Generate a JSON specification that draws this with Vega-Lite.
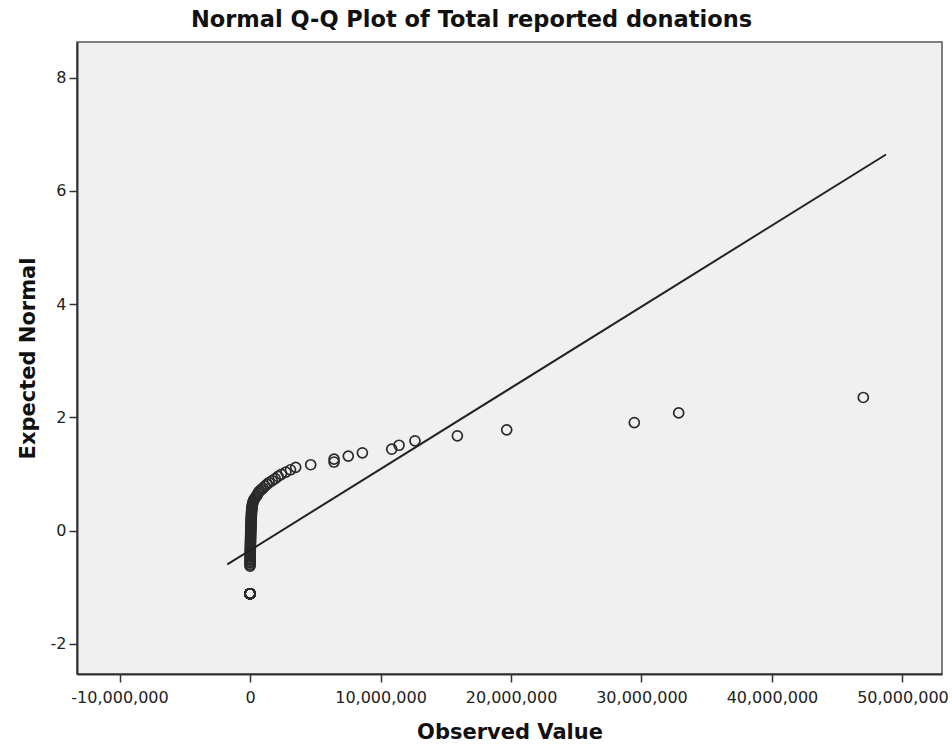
{
  "$schema": "https://vega.github.io/schema/vega-lite/v6.json",
  "width": 865,
  "height": 632,
  "autosize": {"type": "none"},
  "padding": {"left": 77, "top": 42, "right": 10, "bottom": 70},
  "background": "white",
  "title": {
    "text": "Normal Q-Q Plot of Total reported donations",
    "font": "DejaVu Sans",
    "fontSize": 22.5,
    "fontWeight": "bold",
    "color": "#111111",
    "anchor": "middle",
    "frame": "group",
    "dx": -38,
    "offset": 11
  },
  "config": {
    "view": {"fill": "#F0F0F0", "stroke": "#555555", "strokeWidth": 1.5},
    "axis": {
      "grid": false,
      "labelFont": "DejaVu Sans",
      "labelFontSize": 16,
      "labelColor": "#222222",
      "titleFont": "DejaVu Sans",
      "titleFontSize": 21,
      "titleFontWeight": "bold",
      "titleColor": "#111111",
      "domainColor": "#333333",
      "domainWidth": 2,
      "tickColor": "#333333",
      "tickWidth": 1.5,
      "tickSize": 8,
      "labelPadding": 4
    }
  },
  "datasets": {
    "points": [
      {"value": 0, "expected": -1.117}, {"value": 0, "expected": -1.117}, {"value": 0, "expected": -1.117},
      {"value": 0, "expected": -1.117}, {"value": 0, "expected": -1.117}, {"value": 0, "expected": -1.117},
      {"value": 0, "expected": -1.117}, {"value": 0, "expected": -1.117}, {"value": 0, "expected": -1.117},
      {"value": 0, "expected": -1.117}, {"value": 0, "expected": -1.117}, {"value": 0, "expected": -1.117},
      {"value": 0, "expected": -1.117}, {"value": 0, "expected": -1.117}, {"value": 0, "expected": -1.117},
      {"value": 0, "expected": -1.117}, {"value": 0, "expected": -1.117}, {"value": 0, "expected": -1.117},
      {"value": 0, "expected": -1.117}, {"value": 0, "expected": -1.117}, {"value": 0, "expected": -1.117},
      {"value": 0, "expected": -1.117}, {"value": 0, "expected": -1.117}, {"value": 0, "expected": -1.117},
      {"value": 0, "expected": -1.117}, {"value": 0, "expected": -1.117}, {"value": 0, "expected": -1.117},
      {"value": 1000, "expected": -0.631}, {"value": 2000, "expected": -0.602}, {"value": 3000, "expected": -0.573},
      {"value": 5000, "expected": -0.546}, {"value": 6000, "expected": -0.519}, {"value": 8000, "expected": -0.492},
      {"value": 10000, "expected": -0.466}, {"value": 12000, "expected": -0.440}, {"value": 15000, "expected": -0.414},
      {"value": 17000, "expected": -0.388}, {"value": 20000, "expected": -0.363}, {"value": 22000, "expected": -0.337},
      {"value": 25000, "expected": -0.312}, {"value": 27000, "expected": -0.287}, {"value": 30000, "expected": -0.263},
      {"value": 32000, "expected": -0.239}, {"value": 35000, "expected": -0.214}, {"value": 37000, "expected": -0.190},
      {"value": 40000, "expected": -0.166}, {"value": 42000, "expected": -0.142}, {"value": 45000, "expected": -0.118},
      {"value": 48000, "expected": -0.095}, {"value": 50000, "expected": -0.071}, {"value": 53000, "expected": -0.047},
      {"value": 56000, "expected": -0.024}, {"value": 60000, "expected": 0.000}, {"value": 63000, "expected": 0.024},
      {"value": 66000, "expected": 0.047}, {"value": 70000, "expected": 0.071}, {"value": 74000, "expected": 0.095},
      {"value": 78000, "expected": 0.118}, {"value": 82000, "expected": 0.142}, {"value": 86000, "expected": 0.166},
      {"value": 90000, "expected": 0.190}, {"value": 95000, "expected": 0.214}, {"value": 100000, "expected": 0.239},
      {"value": 105000, "expected": 0.263}, {"value": 110000, "expected": 0.287}, {"value": 115000, "expected": 0.312},
      {"value": 120000, "expected": 0.337}, {"value": 130000, "expected": 0.363}, {"value": 140000, "expected": 0.388},
      {"value": 150000, "expected": 0.414}, {"value": 170000, "expected": 0.440}, {"value": 190000, "expected": 0.466},
      {"value": 220000, "expected": 0.492}, {"value": 250000, "expected": 0.519}, {"value": 300000, "expected": 0.546},
      {"value": 380000, "expected": 0.573}, {"value": 470000, "expected": 0.602}, {"value": 550000, "expected": 0.631},
      {"value": 620000, "expected": 0.660}, {"value": 700000, "expected": 0.690}, {"value": 850000, "expected": 0.720},
      {"value": 1000000, "expected": 0.751}, {"value": 1150000, "expected": 0.783}, {"value": 1300000, "expected": 0.815},
      {"value": 1460000, "expected": 0.848}, {"value": 1700000, "expected": 0.882}, {"value": 1930000, "expected": 0.918},
      {"value": 2150000, "expected": 0.955}, {"value": 2400000, "expected": 0.993}, {"value": 2750000, "expected": 1.032},
      {"value": 3100000, "expected": 1.073}, {"value": 3500000, "expected": 1.116}, {"value": 4650000, "expected": 1.162},
      {"value": 6440000, "expected": 1.210}, {"value": 6440000, "expected": 1.261}, {"value": 7530000, "expected": 1.315},
      {"value": 8610000, "expected": 1.373}, {"value": 10860000, "expected": 1.436}, {"value": 11420000, "expected": 1.506},
      {"value": 12640000, "expected": 1.585}, {"value": 15890000, "expected": 1.673}, {"value": 19670000, "expected": 1.778},
      {"value": 29450000, "expected": 1.907}, {"value": 32850000, "expected": 2.077}, {"value": 47000000, "expected": 2.350}
    ],
    "fit": [
      {"value": -1740000, "expected": -0.599},
      {"value": 48740000, "expected": 6.643}
    ]
  },
  "encoding": {
    "x": {
      "field": "value",
      "type": "quantitative",
      "title": "Observed Value",
      "scale": {"domain": [-13260000, 53030000], "nice": false, "zero": false},
      "axis": {
        "values": [-10000000, 0, 10000000, 20000000, 30000000, 40000000, 50000000],
        "format": ",d",
        "labelExpr": "replace(datum.label, '\u2212', '-')",
        "labelPadding": 7,
        "titlePadding": 16
      }
    },
    "y": {
      "field": "expected",
      "type": "quantitative",
      "title": "Expected Normal",
      "scale": {"domain": [-2.535, 8.63], "nice": false, "zero": false},
      "axis": {
        "values": [-2, 0, 2, 4, 6, 8],
        "labelExpr": "replace(datum.label, '\u2212', '-')",
        "labelPadding": 3,
        "titlePadding": 12
      }
    }
  },
  "layer": [
    {
      "data": {"name": "points"},
      "mark": {"type": "point", "shape": "circle", "filled": false, "size": 100, "stroke": "#2a2a2a", "strokeWidth": 1.7, "opacity": 1}
    },
    {
      "data": {"name": "fit"},
      "mark": {"type": "line", "color": "#222222", "strokeWidth": 2}
    }
  ]
}
